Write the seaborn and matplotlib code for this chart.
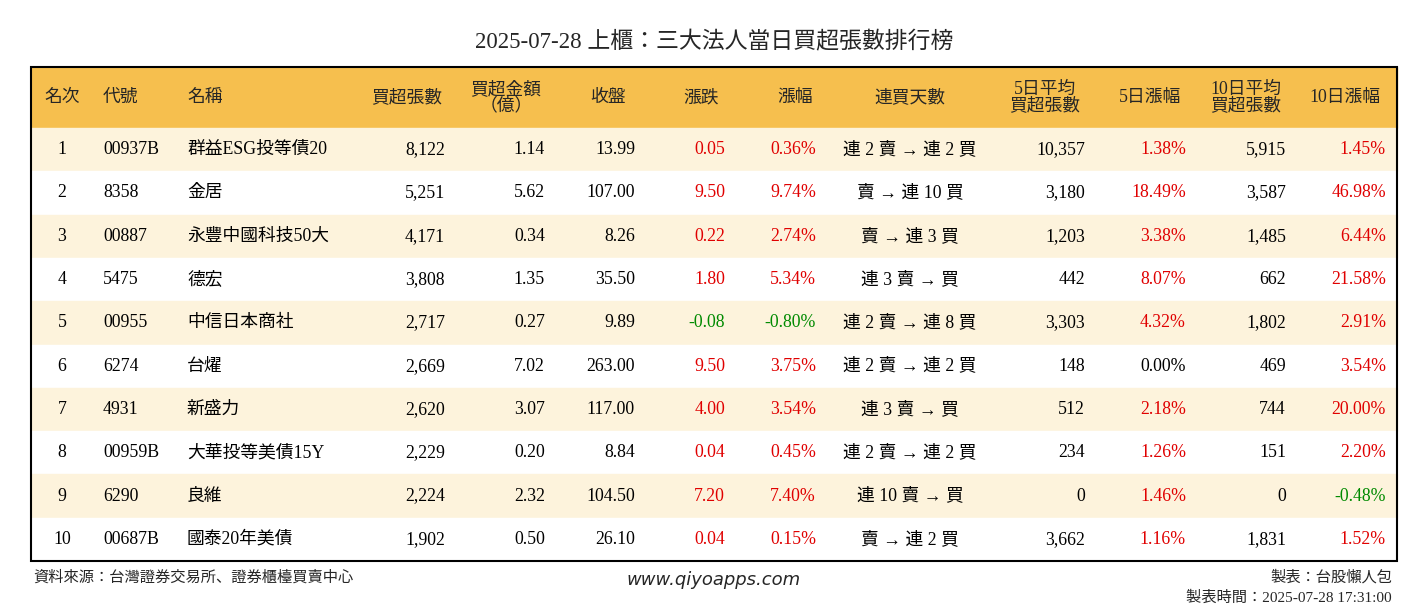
import matplotlib.pyplot as plt
import seaborn as sns
from matplotlib.patches import Rectangle
from matplotlib import font_manager

sns.set_style("white")
names_avail = {f.name for f in font_manager.fontManager.ttflist}
cjk = [n for n in ["Noto Sans CJK TC", "Noto Sans CJK JP", "Noto Sans CJK SC", "Noto Sans CJK KR"]
       if n in names_avail]
FONT = ["Liberation Serif"] + cjk
plt.rcParams["font.family"] = FONT

title = "2025-07-28 上櫃：三大法人當日買超張數排行榜"
headers = ["名次", "代號", "名稱", "買超張數", "買超金額\n（億）", "收盤", "漲跌", "漲幅",
           "連買天數", "5日平均\n買超張數", "5日漲幅", "10日平均\n買超張數", "10日漲幅"]

ranks = [1, 2, 3, 4, 5, 6, 7, 8, 9, 10]
codes = ["00937B", "8358", "00887", "5475", "00955", "6274", "4931", "00959B", "6290", "00687B"]
names = ["群益ESG投等債20", "金居", "永豐中國科技50大", "德宏", "中信日本商社", "台燿", "新盛力",
         "大華投等美債15Y", "良維", "國泰20年美債"]
net_buy = [8122, 5251, 4171, 3808, 2717, 2669, 2620, 2229, 2224, 1902]
amount = [1.14, 5.62, 0.34, 1.35, 0.27, 7.02, 3.07, 0.20, 2.32, 0.50]
close = [13.99, 107.00, 8.26, 35.50, 9.89, 263.00, 117.00, 8.84, 104.50, 26.10]
change = [0.05, 9.50, 0.22, 1.80, -0.08, 9.50, 4.00, 0.04, 7.20, 0.04]
pct = [0.36, 9.74, 2.74, 5.34, -0.80, 3.75, 3.54, 0.45, 7.40, 0.15]
streak = ["連 2 賣 → 連 2 買", "賣 → 連 10 買", "賣 → 連 3 買", "連 3 賣 → 買", "連 2 賣 → 連 8 買",
          "連 2 賣 → 連 2 買", "連 3 賣 → 買", "連 2 賣 → 連 2 買", "連 10 賣 → 買", "賣 → 連 2 買"]
avg5 = [10357, 3180, 1203, 442, 3303, 148, 512, 234, 0, 3662]
pct5 = [1.38, 18.49, 3.38, 8.07, 4.32, 0.00, 2.18, 1.26, 1.46, 1.16]
avg10 = [5915, 3587, 1485, 662, 1802, 469, 744, 151, 0, 1831]
pct10 = [1.45, 46.98, 6.44, 21.58, 2.91, 3.54, 20.00, 2.20, -0.48, 1.52]

RED, GREEN, BLACK = "#E00000", "#008A00", "#000000"


def col(v):
    return RED if v > 0 else GREEN if v < 0 else BLACK


fig = plt.figure(figsize=(14.28, 6.12), dpi=100)
ax = fig.add_axes([0, 0, 1, 1])
ax.set_xlim(0, 1428)
ax.set_ylim(612, 0)
ax.axis("off")

L, R, top, head_h, row_h = 31, 1397, 67, 61, 43.3
ax.add_patch(Rectangle((L, top), R - L, head_h, color="#F6BF4E", zorder=0))
for i in range(10):
    y0 = top + head_h + i * row_h
    ax.add_patch(Rectangle((L, y0), R - L, row_h, color="#FDF3DC" if i % 2 == 0 else "white", zorder=0))
bottom = top + head_h + 10 * row_h
ax.add_patch(Rectangle((L, top), R - L, bottom - top, fill=False, ec="black", lw=1.5, zorder=3))

ax.text(714, 42, title, ha="center", va="center", fontsize=16.5)

fs = 12.8
hdr_pos = [(62, "center"), (103, "left"), (187, "left"), (407, "center"), (506, "center"), (608, "center"),
           (701, "center"), (795, "center"), (910, "center"), (1045, "center"), (1150, "center"),
           (1246, "center"), (1345, "center")]
hy = top + head_h / 2
for (x, ha), h in zip(hdr_pos, headers):
    ax.text(x, hy, h, ha=ha, va="center", fontsize=fs, linespacing=0.95)

for i in range(10):
    y = top + head_h + (i + 0.5) * row_h
    cells = [
        (62, "center", str(ranks[i]), BLACK),
        (103, "left", codes[i], BLACK),
        (187, "left", names[i], BLACK),
        (445, "right", f"{net_buy[i]:,}", BLACK),
        (545, "right", f"{amount[i]:.2f}", BLACK),
        (635, "right", f"{close[i]:.2f}", BLACK),
        (725, "right", f"{change[i]:.2f}", col(change[i])),
        (816, "right", f"{pct[i]:.2f}%", col(pct[i])),
        (910, "center", streak[i], BLACK),
        (1085, "right", f"{avg5[i]:,}", BLACK),
        (1186, "right", f"{pct5[i]:.2f}%", col(pct5[i])),
        (1286, "right", f"{avg10[i]:,}", BLACK),
        (1386, "right", f"{pct10[i]:.2f}%", col(pct10[i])),
    ]
    for x, ha, t, c in cells:
        ax.text(x, y, t, ha=ha, va="center", fontsize=fs, color=c)

ax.text(33, 577, "資料來源：台灣證券交易所、證券櫃檯買賣中心", ha="left", va="center", fontsize=11)
ax.text(714, 580, "www.qiyoapps.com", ha="center", va="center", fontsize=13,
        style="italic", family="DejaVu Sans")
ax.text(1392, 577, "製表：台股懶人包", ha="right", va="center", fontsize=11)
ax.text(1392, 598, "製表時間：2025-07-28 17:31:00", ha="right", va="center", fontsize=11)

fig.savefig("out.png", dpi=100)
